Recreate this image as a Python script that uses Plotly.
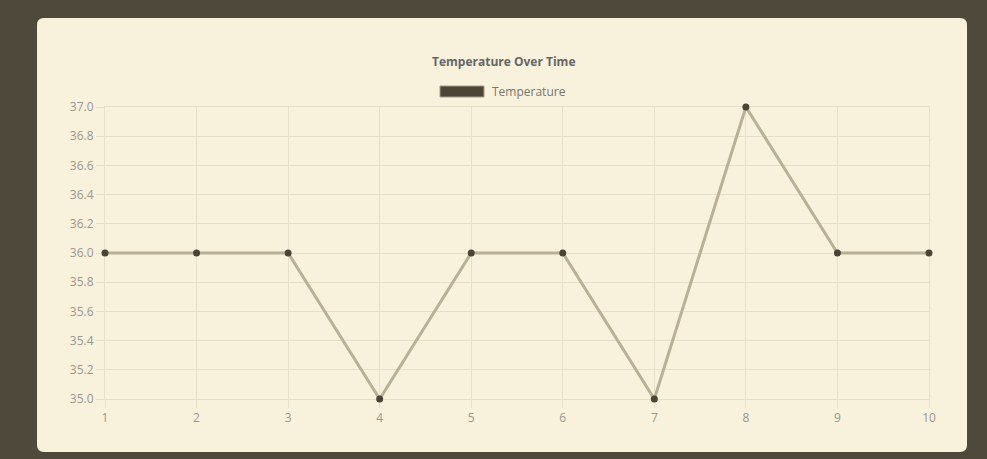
import plotly.graph_objects as go

time_points = [1, 2, 3, 4, 5, 6, 7, 8, 9, 10]
temperature = [36, 36, 36, 35, 36, 36, 35, 37, 36, 36]
y_ticks = [35.0, 35.2, 35.4, 35.6, 35.8, 36.0, 36.2, 36.4, 36.6, 36.8, 37.0]

W, H = 987, 459
L, R, T, B = 105, 929, 107, 399
pw, ph = R - L, B - T

def px(x):
    return (x - L) / pw

def py(y):
    return (B - y) / ph

fig = go.Figure()
fig.add_trace(go.Scatter(
    x=time_points, y=temperature, mode="lines+markers", name="Temperature",
    line=dict(color="#b8b097", width=3),
    marker=dict(color="#4a4434", size=7),
    cliponaxis=False, showlegend=False,
))

# card with rounded corners
x0, x1, y0, y1 = px(37), px(967), py(452), py(18)
rx, ry = 7 / pw, 7 / ph
path = (f"M {x0+rx},{y1} L {x1-rx},{y1} Q {x1},{y1} {x1},{y1-ry} "
        f"L {x1},{y0+ry} Q {x1},{y0} {x1-rx},{y0} L {x0+rx},{y0} "
        f"Q {x0},{y0} {x0},{y0+ry} L {x0},{y1-ry} Q {x0},{y1} {x0+rx},{y1} Z")
shapes = [
    dict(type="path", path=path, xref="paper", yref="paper",
         fillcolor="#f8f1dc", line=dict(width=0), layer="below"),
    dict(type="rect", xref="paper", yref="paper",
         x0=px(440), x1=px(484), y0=py(97), y1=py(86),
         fillcolor="#4d4637", line=dict(color="#a49c88", width=1)),
]

font_fam = "Open Sans, Liberation Sans, Arial, sans-serif"
annotations = [
    dict(text="<b>Temperature Over Time</b>", x=px(503), y=py(61),
         xref="paper", yref="paper", showarrow=False, xanchor="center", yanchor="middle",
         font=dict(size=12, color="#666666", family=font_fam)),
    dict(text="Temperature", x=px(490), y=py(91), xanchor="left", yanchor="middle",
         xref="paper", yref="paper", showarrow=False,
         font=dict(size=12, color="#7a776d", family=font_fam)),
]

grid = "#e7e0c9"
tickfont = dict(size=12, color="#9a978e", family=font_fam)
fig.update_layout(
    width=W, height=H,
    margin=dict(l=L, r=W - R, t=T, b=H - B, pad=0),
    paper_bgcolor="#4e493b",
    plot_bgcolor="#f8f1dc",
    shapes=shapes, annotations=annotations,
    showlegend=False,
    font=dict(family=font_fam, size=12, color="#9a978e"),
    xaxis=dict(range=[1, 10], tickvals=time_points, showgrid=True, gridcolor=grid,
               gridwidth=1, zeroline=False, ticks="outside", ticklen=8, tickcolor=grid,
               showline=True, linecolor=grid, mirror=True, tickfont=tickfont,
               layer="below traces"),
    yaxis=dict(range=[35, 37], tickvals=y_ticks, tickformat=".1f", showgrid=True,
               gridcolor=grid, gridwidth=1, zeroline=False, ticks="outside", ticklen=8,
               tickcolor=grid, showline=True, linecolor=grid, mirror=True, tickfont=tickfont,
               layer="below traces"),
)

fig.write_html(
    "out.html",
    config={"displayModeBar": False},
    post_script="document.body.style.margin='0';document.body.style.background='#4e493b';",
)
